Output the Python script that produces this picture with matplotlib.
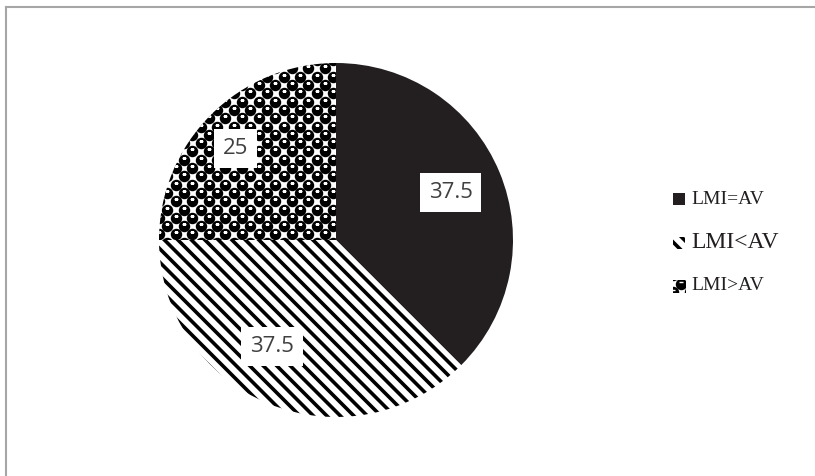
import numpy as np
import matplotlib
matplotlib.use("Agg")
import matplotlib.pyplot as plt
from matplotlib.patches import Rectangle
from matplotlib.lines import Line2D

# ---- data ----
categories = ["LMI=AV", "LMI<AV", "LMI>AV"]
values = [37.5, 37.5, 25]
value_labels = ["37.5", "37.5", "25"]

W, H = 815, 476
fig = plt.figure(figsize=(W / 100, H / 100), dpi=100)
ax = fig.add_axes([0, 0, 1, 1])

cx, cy, R = 336, H - 240, 177
wedges, _ = ax.pie(values, radius=R, center=(cx, cy), startangle=90,
                   counterclock=False, frame=True,
                   wedgeprops=dict(linewidth=0))
ax.set_xlim(0, W)
ax.set_ylim(0, H)
ax.set_aspect('equal')
ax.axis('off')

DARK = "#231F20"

def stripes(clip, xmin, xmax, ymin, ymax, period=13.5, lw=2.6):
    cs = np.arange(xmin + ymin - 20, xmax + ymax + 20, period)
    for c in cs:
        xs = np.array([xmin - 20, xmax + 20])
        ln, = ax.plot(xs, c - xs, color="black", lw=lw, solid_capstyle='butt', zorder=3)
        ln.set_clip_path(clip)

def dots(clip, xmin, xmax, ymin, ymax, cell=8.3):
    xs, ys = [], []
    for i, x in enumerate(np.arange(xmin - cell, xmax + cell, cell)):
        for j, y in enumerate(np.arange(ymin - cell, ymax + cell, cell)):
            if (i + j) % 2 == 0:
                xs.append(x); ys.append(y)
    xs = np.array(xs); ys = np.array(ys)
    sc = ax.scatter(xs, ys, s=68, color="black", linewidths=0, zorder=3)
    sc.set_clip_path(clip)
    hl = ax.scatter(xs, ys + 2.0, s=6, marker='_', color="white", linewidths=1.0, zorder=4)
    hl.set_clip_path(clip)

# styles
wedges[0].set_facecolor(DARK)
wedges[1].set_facecolor("white")
wedges[2].set_facecolor("white")
stripes(wedges[1], cx - R, cx + R, cy - R, cy + R)
dots(wedges[2], cx - R, cx + R, cy - R, cy + R)

# value labels (placed relative to the pie centre)
label_angles = [22.5, -121.0, 137.5]
label_radii = [124, 124, 136]
for lab, a, r in zip(value_labels, label_angles, label_radii):
    x = cx + r * np.cos(np.radians(a))
    y = cy + r * np.sin(np.radians(a))
    ax.text(x, y, lab, ha='center', va='center', fontsize=16, family="Open Sans",
            color="#404040", zorder=10,
            bbox=dict(boxstyle="square,pad=0.4", fc="white", ec="none"))

# legend
leg_y = [H - 199, H - 243, H - 286]
leg_fs = [14, 17, 14]
mx, ms = 673, 12
for k, (name, y, fs) in enumerate(zip(categories, leg_y, leg_fs)):
    if k == 0:
        ax.add_patch(Rectangle((mx, y - ms / 2), ms, ms, fc=DARK, ec="none", zorder=5))
    else:
        box = Rectangle((mx, y - ms / 2), ms, ms, fc="white", ec="none", zorder=2)
        ax.add_patch(box)
        if k == 1:
            stripes(box, mx, mx + ms, y - ms / 2, y + ms / 2, period=13.5, lw=2.6)
        else:
            dots(box, mx, mx + ms, y - ms / 2, y + ms / 2)
    ax.text(mx + ms + 6, y, name, ha='left', va='center', fontsize=fs,
            family="Liberation Serif", color="#231F20")

# chart frame (partial border as in the reference)
fig.add_artist(Line2D([6 / W, 1], [1 - 7 / H, 1 - 7 / H], color="#A6A6A6", lw=1.5))
fig.add_artist(Line2D([6 / W, 6 / W], [0, 1 - 7 / H], color="#A6A6A6", lw=1.5))

fig.savefig("out.png", dpi=100)
